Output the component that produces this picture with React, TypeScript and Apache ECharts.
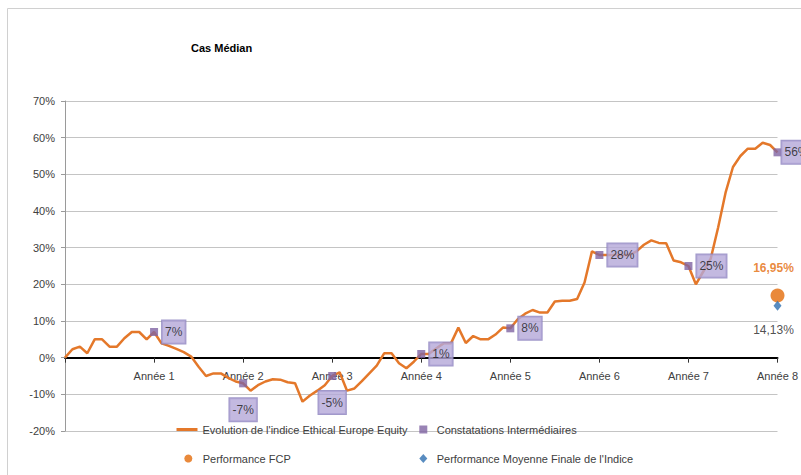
import React, { useEffect, useRef } from "react";
import * as echarts from "echarts";

// Chart texts
const titleText = "Cas Médian";
const lineName = "Evolution de l'indice Ethical Europe Equity";
const obsName = "Constatations Intermédiaires";
const fcpName = "Performance FCP";
const idxName = "Performance Moyenne Finale de l'Indice";

// X axis: years (Année 1..8), monthly index path
const years = [1, 2, 3, 4, 5, 6, 7, 8];
const monthsPerYear = 12;

// Monthly evolution of the index (%), month 0 .. month 96
const indexMonthly = [
  0, 2.3, 3.0, 1.2, 5.0, 5.0, 3.0, 3.0, 5.3, 7.0, 7.0, 5.0,
  7.0, 3.9, 3.2, 2.4, 1.5, 0.3, -2.5, -5.0, -4.3, -4.3, -5.5, -6.5,
  -7.0, -9.0, -7.5, -6.5, -5.9, -6.0, -6.7, -7.0, -12.0, -10.3, -9.0, -7.5,
  -5.0, -4.0, -9.0, -8.4, -6.4, -4.3, -2.2, 1.2, 1.2, -1.5, -2.9, -1.1,
  1.0, 1.0, 2.5, 3.9, 3.9, 8.2, 4.0, 5.9, 5.0, 5.0, 6.3, 8.2,
  8.0, 10.5, 12.0, 13.0, 12.3, 12.3, 15.3, 15.5, 15.5, 16.0, 20.5, 29.0,
  28.0, 28.0, 28.0, 28.0, 28.0, 29.0, 30.8, 32.0, 31.3, 31.2, 26.5, 26.0,
  25.0, 20.0, 23.5, 27.0, 35.5, 45.0, 52.0, 55.0, 57.0, 57.0, 58.6, 58.0,
  56.0,
];

// Yearly observations (%)
const observations = [7, -7, -5, 1, 8, 28, 25, 56];

// Final performances (%)
const fcpPerformance = 16.95;
const indexFinalPerformance = 14.13;

// Y axis range (%)
const yMin = -20;
const yMax = 70;
const yStep = 10;

const FONT = "'Liberation Sans', Arial, sans-serif";
const ORANGE = "#e4782a";
const PURPLE = "#8064a2";
const TEXT = "#404040";

const GRID_TOP = 101;
const GRID_BOTTOM = 44;
const CHART_H = 475;

const fmtComma = (v: number) => v.toFixed(2).replace(".", ",") + "%";

export default function App() {
  const ref = useRef<HTMLDivElement | null>(null);

  useEffect(() => {
    if (!ref.current) return;
    const chart = echarts.init(ref.current, null, { renderer: "svg" });

    const plotH = CHART_H - GRID_TOP - GRID_BOTTOM;
    const zeroOffset = (plotH * (0 - yMin)) / (yMax - yMin);

    const lineData = indexMonthly.map((v, i) => [i / monthsPerYear, v]);
    const obsData = years.map((y, i) => {
      const v = observations[i];
      const below = v < 0 && (y === 2 || y === 3);
      const last = i === years.length - 1;
      return {
        value: [y, v],
        label: below
          ? { position: "bottom", distance: 11 }
          : { position: "right", distance: last ? 0 : 4 },
      };
    });

    const legendBase = {
      orient: "horizontal",
      padding: 0,
      itemGap: 0,
      selectedMode: false,
    };
    const legendText = (pad: number) => ({
      color: TEXT,
      fontSize: 11,
      fontFamily: FONT,
      padding: [0, 0, 0, pad],
    });

    chart.setOption({
      animation: false,
      backgroundColor: "#ffffff",
      textStyle: { fontFamily: FONT },
      title: {
        text: titleText,
        left: 191,
        top: 42,
        padding: 0,
        textStyle: { fontSize: 11, fontWeight: "bold", color: "#000", fontFamily: FONT },
      },
      graphic: [
        {
          type: "rect",
          shape: { x: 7.5, y: 8.5, width: 900, height: 600 },
          style: { fill: "none", stroke: "#d0d0d0", lineWidth: 1 },
          silent: true,
          z: -10,
        },
      ],
      legend: [
        {
          ...legendBase,
          data: [{ name: lineName, icon: "rect" }],
          left: 176.5,
          top: 424,
          itemWidth: 21,
          itemHeight: 3,
          textStyle: legendText(0),
        },
        {
          ...legendBase,
          data: [{ name: obsName, icon: "rect" }],
          left: 419.3,
          top: 424,
          itemWidth: 8,
          itemHeight: 8,
          textStyle: legendText(4.4),
        },
        {
          ...legendBase,
          data: [{ name: fcpName, icon: "circle" }],
          left: 184.3,
          top: 453,
          itemWidth: 8,
          itemHeight: 8,
          textStyle: legendText(5.4),
        },
        {
          ...legendBase,
          data: [{ name: idxName, icon: "diamond" }],
          left: 419.3,
          top: 453,
          itemWidth: 8,
          itemHeight: 9,
          textStyle: legendText(4.4),
        },
      ],
      grid: { left: 65, right: 22, top: GRID_TOP, bottom: GRID_BOTTOM, containLabel: false },
      xAxis: {
        type: "value",
        position: "bottom",
        offset: -zeroOffset,
        min: 0,
        max: years.length,
        interval: 1,
        axisLine: { show: true, onZero: false, lineStyle: { color: "#000", width: 2 } },
        axisTick: { show: true, length: 5, lineStyle: { color: "#333" } },
        axisLabel: {
          color: TEXT,
          fontSize: 11,
          fontFamily: FONT,
          margin: 13,
          formatter: (v: number) => (v === 0 ? "" : "Année " + v),
        },
        splitLine: { show: false },
      },
      yAxis: {
        type: "value",
        min: yMin,
        max: yMax,
        interval: yStep,
        axisLine: { show: true, onZero: false, lineStyle: { color: "#9a9a9a" } },
        axisTick: { show: true, length: 4, lineStyle: { color: "#9a9a9a" } },
        axisLabel: {
          color: TEXT,
          fontSize: 11,
          fontFamily: FONT,
          margin: 10,
          formatter: (v: number) => v + "%",
        },
        splitLine: { show: true, lineStyle: { color: "#c4c4c4", width: 1 } },
      },
      series: [
        {
          name: lineName,
          type: "line",
          data: lineData,
          symbol: "none",
          lineStyle: { color: ORANGE, width: 2.5 },
          itemStyle: { color: ORANGE },
          z: 2,
        },
        {
          name: obsName,
          type: "scatter",
          data: obsData,
          symbol: "rect",
          symbolSize: 8,
          itemStyle: { color: PURPLE },
          z: 3,
          label: {
            show: true,
            formatter: (p: any) => p.value[1] + "%",
            color: "#1a1a1a",
            fontSize: 12,
            fontFamily: FONT,
            backgroundColor: "#b4a8d8",
            borderColor: "#8a80bd",
            borderWidth: 1,
            padding: [6, 3, 5, 3],
          },
        },
        {
          name: fcpName,
          type: "scatter",
          data: [[years[years.length - 1], fcpPerformance]],
          symbol: "circle",
          symbolSize: 14,
          itemStyle: { color: "#e46c0a" },
          clip: false,
          z: 3,
          label: {
            show: true,
            position: "top",
            distance: 15,
            offset: [-4, 0],
            formatter: (p: any) => fmtComma(p.value[1]),
            color: "#e46c0a",
            fontWeight: "bold",
            fontSize: 12,
            fontFamily: FONT,
          },
        },
        {
          name: idxName,
          type: "scatter",
          data: [[years[years.length - 1], indexFinalPerformance]],
          symbol: "diamond",
          symbolSize: [8, 10],
          itemStyle: { color: "#2e6fb0" },
          clip: false,
          z: 4,
          label: {
            show: true,
            position: "bottom",
            distance: 13,
            offset: [-4, 0],
            formatter: (p: any) => fmtComma(p.value[1]),
            color: "#222",
            fontSize: 12,
            fontFamily: FONT,
          },
        },
      ],
    });

    return () => chart.dispose();
  }, []);

  return (
    <div
      ref={ref}
      style={{ position: "fixed", left: 0, top: 0, width: 801, height: 475, background: "#fff" }}
    />
  );
}
